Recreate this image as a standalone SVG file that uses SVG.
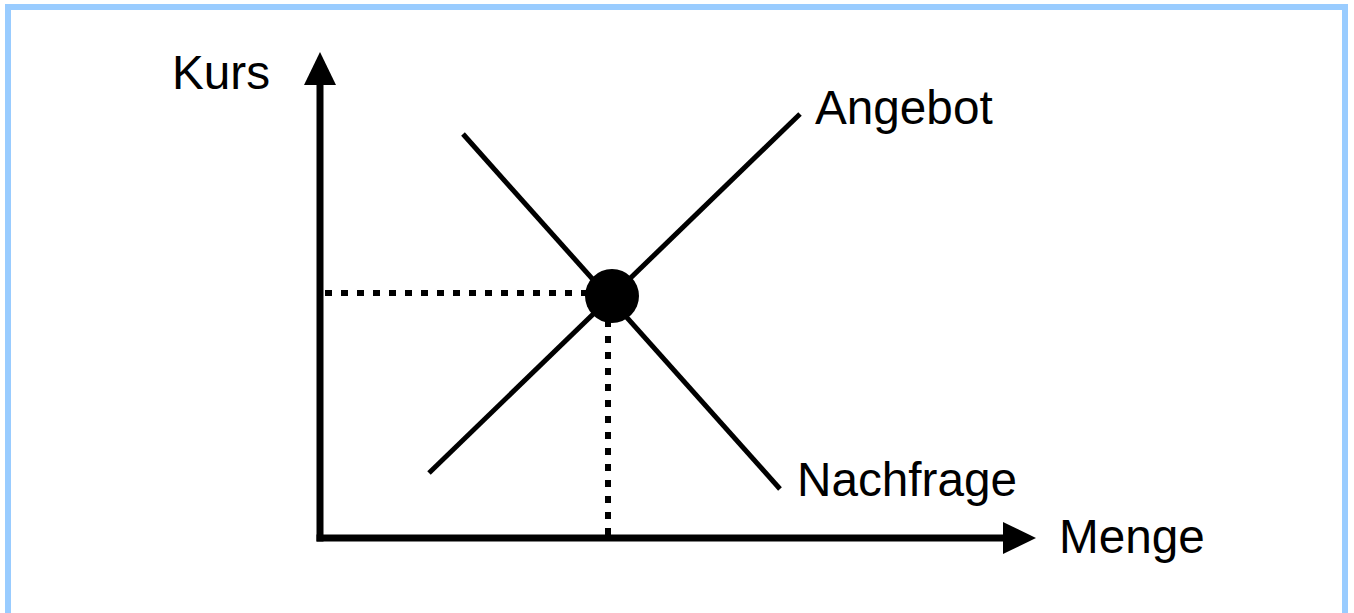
<svg xmlns="http://www.w3.org/2000/svg" width="1354" height="613" viewBox="0 0 1354 613">
<style>
.lbl{font-family:"Liberation Sans",Arial,sans-serif;font-size:47.7px;fill:#000}
.ax{stroke:#000;stroke-width:7;fill:none}
.cv{stroke:#000;stroke-width:5;fill:none}
.dot{stroke:#000;stroke-width:6;stroke-dasharray:7 9;fill:none}
</style>
<rect x="0" y="0" width="1354" height="613" fill="#fff"/>
<rect x="8" y="7" width="1337" height="620" fill="none" stroke="#99CCFF" stroke-width="6"/>
<g id="connectors">
<line class="ax" x1="320" y1="84" x2="320" y2="541.5"/>
<polygon points="320,52 304,85 336,85" fill="#000"/>
<line class="ax" x1="316.5" y1="538" x2="1004" y2="538"/>
<polygon points="1036,538 1003,522 1003,554" fill="#000"/>
<line class="dot" x1="325" y1="293" x2="590" y2="293"/>
<line class="dot" x1="608" y1="320" x2="608" y2="535"/>
<line id="angebot-line" class="cv" x1="429" y1="473" x2="800" y2="114"/>
<line id="nachfrage-line" class="cv" x1="463" y1="134" x2="780" y2="489"/>
</g>
<g id="equilibrium"><circle cx="612" cy="296" r="27" fill="#000"/></g>
<g id="kurs"><text class="lbl" x="172" y="89">Kurs</text></g>
<g id="menge"><text class="lbl" x="1059" y="553">Menge</text></g>
<g id="angebot"><text class="lbl" x="815" y="124">Angebot</text></g>
<g id="nachfrage"><text class="lbl" x="797" y="496">Nachfrage</text></g>
</svg>
